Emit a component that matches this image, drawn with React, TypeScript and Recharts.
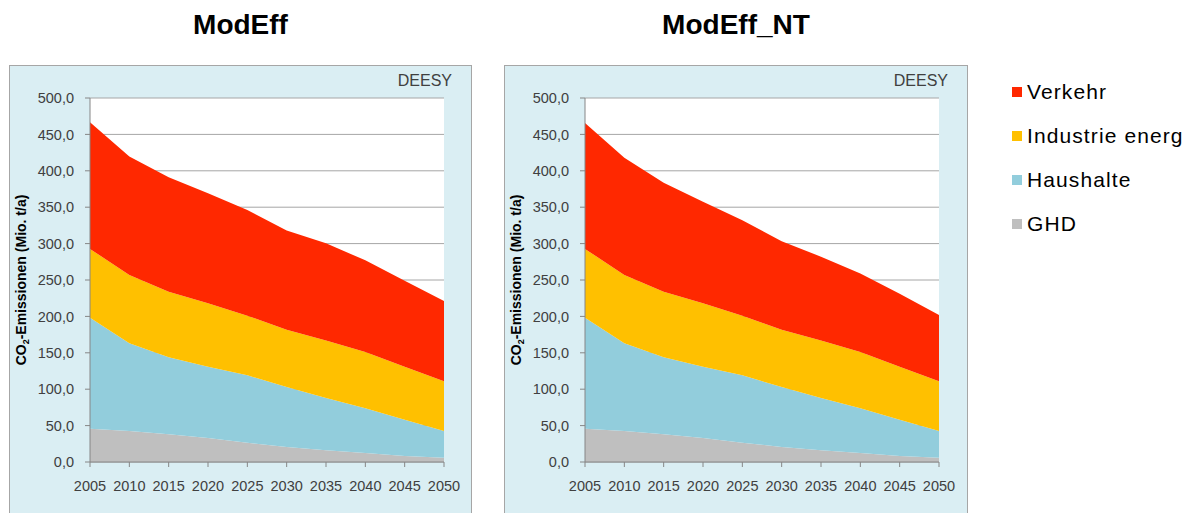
import React from 'react';
import { AreaChart, Area, XAxis, YAxis, CartesianGrid } from 'recharts';

// Years on the x axis
const YEARS = ['2005', '2010', '2015', '2020', '2025', '2030', '2035', '2040', '2045', '2050'];

// Stack layers, bottom to top (Mio. t/a)
const GHD = [45.7, 42.5, 38, 33, 26.5, 20.6, 16, 12.3, 8.2, 6];
const HAUSHALTE = [152.3, 120.5, 106, 98, 92.5, 82.4, 72, 61.7, 49.8, 36.5];
const INDUSTRIE = [94.7, 94, 90, 87, 82, 78.6, 79, 77, 73, 68.5];
const VERKEHR_MODEFF = [173.9, 162.5, 157, 151, 145, 136.4, 133.5, 126, 118, 110];
const VERKEHR_MODEFF_NT = [173, 161, 149.6, 139.5, 131, 121.7, 115, 108, 100, 90.8];

const Y_TICKS = [0, 50, 100, 150, 200, 250, 300, 350, 400, 450, 500];

const SERIES = [
  { key: 'GHD', label: 'GHD', color: '#BFBFBF' },
  { key: 'Haushalte', label: 'Haushalte', color: '#92CDDC' },
  { key: 'Industrie', label: 'Industrie energ', color: '#FFC000' },
  { key: 'Verkehr', label: 'Verkehr', color: '#FF2800' },
];

const FONT = '"Liberation Sans", Arial, Helvetica, sans-serif';
const TICK_COLOR = '#404040';
const AXIS_COLOR = '#868686';

const buildData = (verkehr: number[]) =>
  YEARS.map((year, i) => ({
    year,
    GHD: GHD[i],
    Haushalte: HAUSHALTE[i],
    Industrie: INDUSTRIE[i],
    Verkehr: verkehr[i],
  }));

const fmt = (v: number) => v.toFixed(1).replace('.', ',');

// rotated axis title, drawn over the chart at the left edge of the panel
const YAxisTitle: React.FC<{ left: number }> = ({ left }) => (
  <svg
    width={40}
    height={448}
    style={{ position: 'absolute', left, top: 65, pointerEvents: 'none', overflow: 'visible' }}
  >
    <text
      x={17}
      y={215}
      transform="rotate(-90, 17, 215)"
      textAnchor="middle"
      style={{ fontFamily: FONT, fontSize: '14px', fontWeight: 'bold' }}
      fill="#000"
    >
      <tspan>CO</tspan>
      <tspan style={{ fontSize: '9px' }} dy={3}>2</tspan>
      <tspan dy={-3}>-Emissionen (Mio. t/a)</tspan>
    </text>
  </svg>
);

interface PanelProps {
  title: string;
  left: number;
  width: number;
  verkehr: number[];
}

const Panel: React.FC<PanelProps> = ({ title, left, width, verkehr }) => {
  const data = buildData(verkehr);
  return (
    <>
      <div
        style={{
          position: 'absolute',
          left,
          top: 11,
          width,
          textAlign: 'center',
          fontFamily: FONT,
          fontWeight: 'bold',
          fontSize: 28,
          lineHeight: '28px',
          color: '#000',
        }}
      >
        {title}
      </div>
      <div
        style={{
          position: 'absolute',
          left,
          top: 65,
          width,
          height: 470,
          boxSizing: 'border-box',
          border: '1px solid #a6a6a6',
          background: '#DAEEF3',
        }}
      />
      <div
        style={{
          position: 'absolute',
          left: left + width - 120,
          top: 73,
          width: 100,
          textAlign: 'right',
          fontFamily: FONT,
          fontSize: 16,
          lineHeight: '16px',
          color: TICK_COLOR,
        }}
      >
        DEESY
      </div>
      <div style={{ position: 'absolute', left, top: 65 }}>
        <AreaChart
          width={width}
          height={448}
          data={data}
          margin={{ top: 33, right: width - 435, bottom: 0, left: 0 }}
        >
          <CartesianGrid vertical={false} stroke="#a6a6a6" fill="#ffffff" fillOpacity={1} />
          <XAxis
            dataKey="year"
            height={51}
            tickLine={{ stroke: AXIS_COLOR }}
            axisLine={{ stroke: AXIS_COLOR }}
            tickSize={5}
            tickMargin={14}
            interval={0}
            tick={{ fill: TICK_COLOR, fontSize: 14.5, fontFamily: FONT }}
          />
          <YAxis
            width={81}
            domain={[0, 500]}
            ticks={Y_TICKS}
            interval={0}
            tickFormatter={fmt}
            tickLine={{ stroke: AXIS_COLOR }}
            axisLine={{ stroke: AXIS_COLOR }}
            tickSize={5}
            tickMargin={11}
            tick={{ fill: TICK_COLOR, fontSize: 14.5, fontFamily: FONT }}
          />
          {SERIES.map((s) => (
            <Area
              key={s.key}
              type="linear"
              dataKey={s.key}
              stackId="1"
              stroke="none"
              fill={s.color}
              fillOpacity={1}
              isAnimationActive={false}
              dot={false}
              activeDot={false}
            />
          ))}
        </AreaChart>
      </div>
      <YAxisTitle left={left} />
    </>
  );
};

const LegendBlock: React.FC = () => {
  const items = [...SERIES].reverse();
  return (
    <>
      {items.map((s, i) => {
        const baseline = 99 + i * 44;
        return (
          <React.Fragment key={s.key}>
            <div
              style={{
                position: 'absolute',
                left: 1012,
                top: baseline - 12,
                width: 10,
                height: 10,
                background: s.color,
              }}
            />
            <div
              style={{
                position: 'absolute',
                left: 1027,
                top: baseline - 18,
                fontFamily: FONT,
                fontSize: 21,
                lineHeight: '21px',
                letterSpacing: 1.1,
                color: '#000',
                whiteSpace: 'nowrap',
              }}
            >
              {s.label}
            </div>
          </React.Fragment>
        );
      })}
    </>
  );
};

export default function App() {
  return (
    <div
      style={{
        position: 'absolute',
        left: 0,
        top: 0,
        width: 1189,
        height: 513,
        overflow: 'hidden',
        background: '#ffffff',
      }}
    >
      <Panel title="ModEff" left={9} width={463} verkehr={VERKEHR_MODEFF} />
      <Panel title="ModEff_NT" left={504} width={464} verkehr={VERKEHR_MODEFF_NT} />
      <LegendBlock />
    </div>
  );
}
